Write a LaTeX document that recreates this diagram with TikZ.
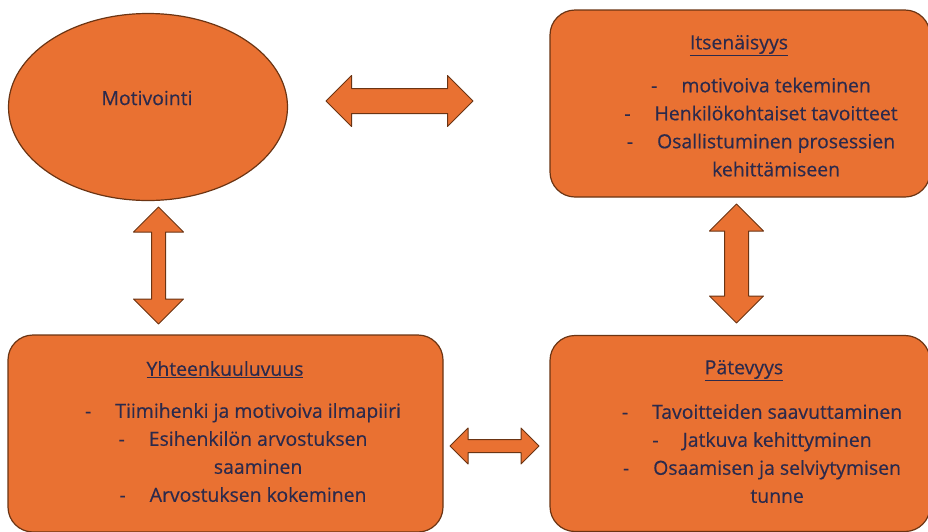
\documentclass[tikz,border=0pt]{standalone}
\usepackage{fontspec}
\setmainfont{Open Sans}[FakeBold=0.4]
\usetikzlibrary{shapes.geometric,shapes.arrows}
\definecolor{boxfill}{HTML}{E97132}
\definecolor{boxline}{HTML}{6B3413}
\definecolor{txtcol}{HTML}{2B2A4C}
\newcommand{\dashitem}[1]{-\hspace{24pt}#1}
\newcommand{\contitem}[1]{\phantom{-}\hspace{24pt}#1}
\begin{document}
\begin{tikzpicture}[x=1pt, y=-1pt, line join=round,
	box/.style={draw=boxline, fill=boxfill, line width=1.2pt, rounded corners=25pt, inner sep=0pt},
	oval/.style={draw=boxline, fill=boxfill, line width=1.2pt, ellipse, inner sep=0pt},
	blockarrow/.style={draw=boxline, fill=boxfill, line width=1pt, shape=double arrow,
		double arrow tip angle=90, double arrow head indent=0pt, inner xsep=0pt},
	txt/.style={text=txtcol, font=\fontsize{19.4}{28}\selectfont, align=center}]
	\useasboundingbox (0,0) rectangle (928,531);
	% shapes
	\node[oval, minimum width=279, minimum height=187] (motiv) at (148,107) {};
	\node[box, minimum width=380, minimum height=187] (itse) at (740,103.5) {};
	\node[box, minimum width=435, minimum height=197] (yhte) at (225.5,433.5) {};
	\node[box, minimum width=380, minimum height=196] (pate) at (740,433.5) {};
	% block arrows
	\node[blockarrow, minimum height=147, inner ysep=12pt, double arrow head extend=13pt] (a1) at (399.5,101) {};
	\node[blockarrow, rotate=90, minimum height=117, inner ysep=6.5pt, double arrow head extend=18pt] (a2) at (158.5,265.5) {};
	\node[blockarrow, rotate=90, minimum height=119, inner ysep=11.5pt, double arrow head extend=15pt] (a3) at (736.5,263.5) {};
	\node[blockarrow, minimum height=89, inner ysep=6pt, double arrow head extend=11.5pt] (a4) at (494.5,446) {};
	% texts
	\node[txt] (motiv-t) at (147,98) {Motivointi};
	\node[txt] (itse-t) at (739,45.5) {\underline{Itsenäisyys}};
	\node[txt] (itse-l) at (761,127) {\dashitem{motivoiva tekeminen}\\
		\dashitem{Henkilökohtaiset tavoitteet}\\
		\dashitem{Osallistuminen prosessien}\\
		\contitem{kehittämiseen}};
	\node[txt] (yhte-t) at (225,369.5) {\underline{Yhteenkuuluvuus}};
	\node[txt] (yhte-l) at (243,452.5) {\dashitem{Tiimihenki ja motivoiva ilmapiiri}\\
		\dashitem{Esihenkilön arvostuksen}\\
		\contitem{saaminen}\\
		\dashitem{Arvostuksen kokeminen}};
	\node[txt] (pate-t) at (744,370.5) {\underline{Pätevyys}};
	\node[txt] (pate-l) at (762,453.5) {\dashitem{Tavoitteiden saavuttaminen}\\
		\dashitem{Jatkuva kehittyminen}\\
		\dashitem{Osaamisen ja selviytymisen}\\
		\contitem{tunne}};
\end{tikzpicture}
\end{document}
